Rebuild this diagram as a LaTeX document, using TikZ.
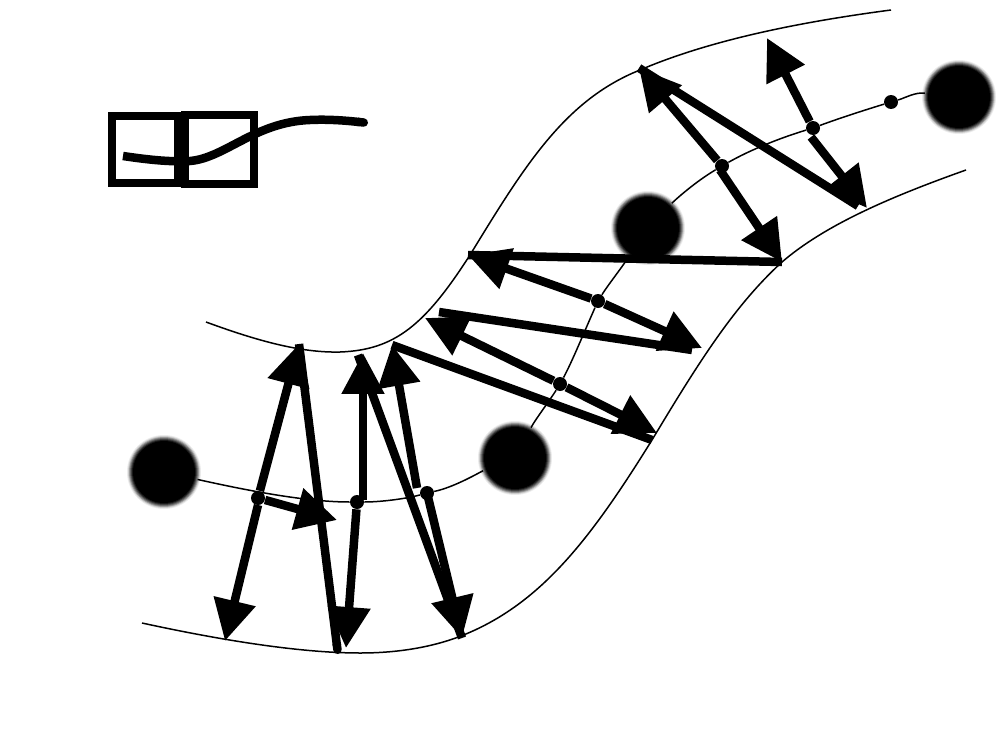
\documentclass[tikz,border=0pt]{standalone}
\usepackage{tikz}
\usetikzlibrary{arrows.meta}
\tikzset{
  blob/.style={circle, minimum size=1.36cm, inner sep=0pt},
  pt/.style={circle, fill=black, minimum size=0.28cm, inner sep=0pt},
  cell/.style={rectangle, draw=black, line width=0.16cm, minimum width=1.34cm, minimum height=1.33cm, inner sep=0pt},
  rail/.style={line width=0.03cm},
  vec/.style={-{Triangle[length=0.82cm, width=0.82cm]}, line width=0.17cm},
  bar/.style={line width=0.17cm},
}
\begin{document}
\begin{tikzpicture}[x=0.02cm, y=-0.02cm]
\useasboundingbox (0,0) rectangle (1000,750);
% charges
\node[blob] (b1) at (164,472) {};
\node[blob] (b2) at (515,458) {};
\node[blob] (b3) at (648,228) {};
\node[blob] (b4) at (959,97) {};
\foreach \c in {b1,b2,b3,b4}
  \foreach \r/\g in {37/8, 36/20, 35/40, 34/58, 33/75, 32/90, 31/100}
    \fill[black!\g] (\c.center) circle (\r);
% points on the middle line
\node[pt] (p1) at (258,498) {};
\node[pt] (p2) at (357,502) {};
\node[pt] (p3) at (427,493) {};
\node[pt] (p4) at (560,384) {};
\node[pt] (p5) at (598,301) {};
\node[pt] (p6) at (722,166) {};
\node[pt] (p7) at (813,128) {};
\node[pt] (p8) at (891,102) {};
% rails
\draw[rail] (206,322) .. controls (255,340) and (300,353) .. (340,352) .. controls (395,350) and (425,325) .. (470,255) .. controls (525,165) and (565,100) .. (640,70) .. controls (710,40) and (800,22) .. (891,10);
\draw[rail] (142,623) .. controls (220,640) and (300,653) .. (360,653) .. controls (395,653) and (430,648) .. (461,636) .. controls (540,605) and (590,540) .. (652,440) .. controls (700,360) and (735,305) .. (782,262) .. controls (825,225) and (890,197) .. (966,170);
% middle line
\draw[rail] (b1) .. controls (245,490) and (305,502) .. (p2);
\draw[rail] (p2) .. controls (380,502) and (405,499) .. (p3);
\draw[rail] (p3) .. controls (455,487) and (480,472) .. (b2);
\draw[rail] (b2) .. controls (535,420) and (550,400) .. (p4);
\draw[rail] (p4) .. controls (572,362) and (585,330) .. (p5);
\draw[rail] (p5) .. controls (608,285) and (620,270) .. (b3);
\draw[rail] (b3) .. controls (675,200) and (695,182) .. (p6);
\draw[rail] (p6) .. controls (750,150) and (780,138) .. (p7);
\draw[rail] (p7) .. controls (840,118) and (865,110) .. (p8);
\draw[rail] (p8) .. controls (905,98) and (915,92) .. (b4);
% tips and free ends
\coordinate (t1) at (299,344);
\coordinate (s2) at (258,505);
\coordinate (t2) at (225,641);
\coordinate (t3) at (337,520);
\coordinate (e4) at (338,654);
\coordinate (s5) at (363,500);
\coordinate (t5) at (363,353);
\coordinate (t6) at (346,648);
\coordinate (e7) at (358,355);
\coordinate (s8) at (428,497);
\coordinate (t8) at (462,638);
\coordinate (s9) at (417,488);
\coordinate (t9) at (392,345);
\coordinate (e10) at (652,440);
\coordinate (t11) at (657,433);
\coordinate (t12) at (425,318);
\coordinate (s13) at (439,312);
\coordinate (e13) at (692,350);
\coordinate (t14) at (702,348);
\coordinate (t15) at (468,255);
\coordinate (e16) at (782,262);
\coordinate (s16) at (720,170);
\coordinate (t17) at (639,68);
\coordinate (e18) at (858,206);
\coordinate (t19) at (767,38);
\coordinate (s20) at (811,137);
\coordinate (t20) at (867,208);
% field vectors
\foreach \a/\b in {p1/t1, s2/t2, p1/t3, s5/t5, p2/t6, s8/t8, s9/t9, p4/t11, p4/t12, p5/t14, p5/t15, s16/e16, p6/t17, p7/t19, s20/t20}
  \draw[vec] (\a) -- (\b);
% plain bars
\foreach \a/\b in {e7/t8, t9/e10, s13/e13, e16/t15, t17/e18}
  \draw[bar] (\a) -- (\b);
\draw[bar, -{Round Cap[]}] (t1) -- (e4);
% icon
\node[cell] (c1) at (145,149.5) {};
\node[cell, minimum width=1.38cm, minimum height=1.38cm] (c2) at (219.5,149.5) {};
\coordinate (w1) at (123,156);
\coordinate (w2) at (368,123);
\draw[bar, -{Round Cap[]}] (w1) .. controls (150,160) and (170,162) .. (190,161) .. controls (225,158) and (255,122) .. (310,120) .. controls (330,119) and (350,121) .. (w2);
\end{tikzpicture}
\end{document}
